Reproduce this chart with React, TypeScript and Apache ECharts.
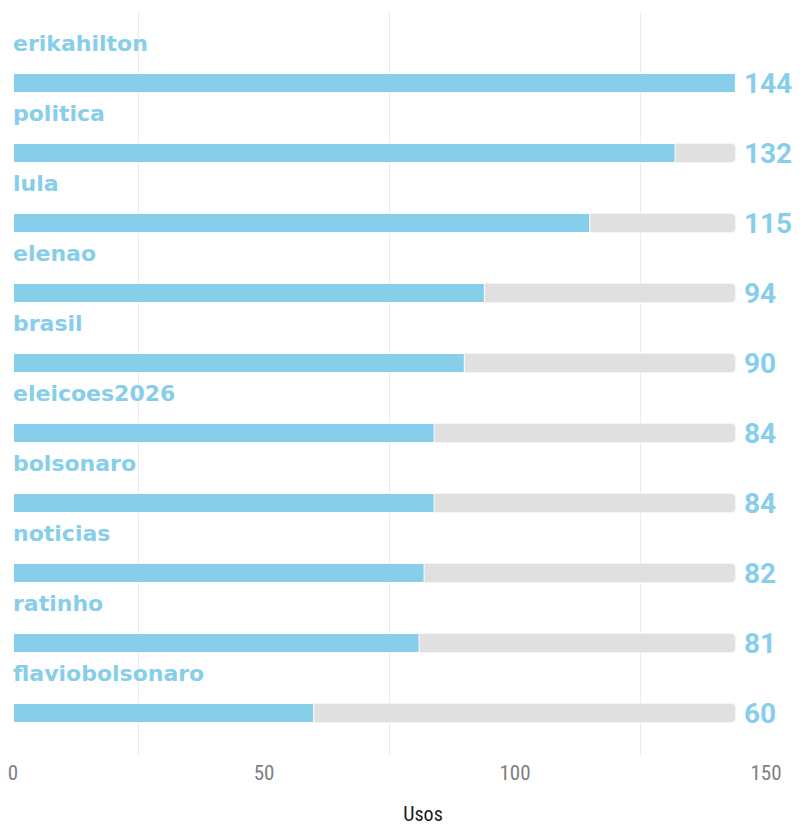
import React, { useEffect, useRef } from "react";
import * as echarts from "echarts";

const categories = ["erikahilton", "politica", "lula", "elenao", "brasil", "eleicoes2026", "bolsonaro", "noticias", "ratinho", "flaviobolsonaro"];
const usos = [144, 132, 115, 94, 90, 84, 84, 82, 81, 60];
const maxUsos = 144;
const xTicks = [0, 50, 100, 150];

const BLUE = "#87CEEB";
const TICK_FONT = "'Liberation Sans Narrow', 'Roboto Condensed', Roboto, sans-serif";

export default function App() {
  const ref = useRef<HTMLDivElement>(null);
  useEffect(() => {
    if (!ref.current) return;
    const chart = echarts.init(ref.current, null, { renderer: "svg" });
    const left = 13;
    const right = 801 - 766;
    chart.setOption({
      animation: false,
      grid: [
        { left, right, top: 48, bottom: 827 - 748 },
        { left, right, top: 12, bottom: 827 - 755 },
      ],
      xAxis: [
        {
          gridIndex: 0, type: "value", min: 0, max: 150, interval: 50,
          axisLabel: { show: false }, axisLine: { show: false }, axisTick: { show: false }, splitLine: { show: false },
        },
        {
          gridIndex: 1, type: "value", min: xTicks[0], max: xTicks[xTicks.length - 1], interval: 50,
          axisLine: { show: false }, axisTick: { show: false },
          splitLine: { show: false },
          minorTick: { show: false, splitNumber: 2 },
          minorSplitLine: { show: true, lineStyle: { color: "#ebebeb", width: 1 } },
          axisLabel: { color: "#7f7f7f", fontSize: 21, fontFamily: TICK_FONT, margin: 7 },
        },
      ],
      yAxis: [
        {
          gridIndex: 0, type: "category", data: categories, inverse: true,
          axisLabel: { show: false }, axisLine: { show: false }, axisTick: { show: false }, splitLine: { show: false },
        },
        { gridIndex: 1, type: "value", show: false },
      ],
      graphic: [
        {
          type: "text", x: 423, y: 814,
          style: { text: "Usos", fill: "#1a1a1a", fontSize: 20, lineHeight: 20, fontFamily: TICK_FONT, textAlign: "center", textVerticalAlign: "middle" },
        },
      ],
      series: [
        {
          type: "bar", xAxisIndex: 0, yAxisIndex: 0,
          data: usos.map(() => maxUsos),
          barWidth: 20, barGap: "-100%", z: 1,
          itemStyle: { color: "#e0e0e0", borderRadius: [0, 4, 4, 0], borderColor: "#f4f4f4", borderWidth: 1 },
          label: {
            show: true, position: "right", distance: 8,
            formatter: (p: any) => String(usos[p.dataIndex]),
            color: BLUE, fontSize: 28, fontWeight: "bold", fontFamily: "Roboto, sans-serif",
          },
          silent: true,
        },
        {
          type: "bar", xAxisIndex: 0, yAxisIndex: 0,
          data: usos,
          barWidth: 20, barGap: "-100%", z: 2,
          itemStyle: { color: BLUE, borderColor: "#ffffff", borderWidth: 1 },
          label: {
            show: true, position: [0, -30], align: "left", verticalAlign: "middle",
            formatter: (p: any) => categories[p.dataIndex],
            color: BLUE, fontSize: 22, fontWeight: "bold", fontFamily: "'DejaVu Sans', sans-serif",
          },
        },
      ],
    });
    return () => chart.dispose();
  }, []);
  return <div ref={ref} style={{ position: "absolute", left: 0, top: 0, width: 801, height: 827 }} />;
}
